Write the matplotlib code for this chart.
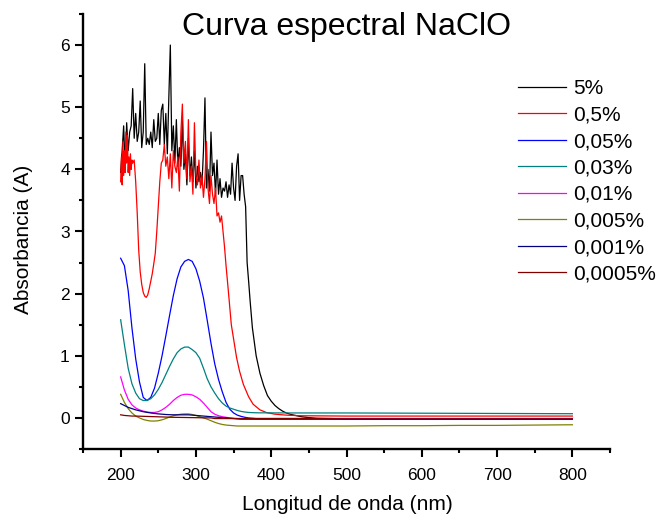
import matplotlib
matplotlib.use('Agg')
import matplotlib.pyplot as plt
from matplotlib.ticker import MultipleLocator

plt.rcParams['font.family'] = ['Liberation Sans', 'DejaVu Sans']

# longitudes de onda para las curvas suaves
wl = [200, 205, 210, 215, 220, 225, 230, 235, 240, 245,
      250, 255, 260, 265, 270, 275, 280, 285, 290, 295,
      300, 305, 310, 315, 320, 325, 330, 335, 340, 345,
      350, 355, 360, 365, 370, 375, 380, 385, 390, 395,
      400, 405, 410, 415, 420, 425, 430, 435, 440, 445,
      450, 500, 550, 600, 650, 700, 750, 800]

# 5 %
wl_5 = list(range(200, 368, 2)) + [368, 370, 372, 375, 380, 385, 390, 395, 400, 405, 410,
                                   415, 420, 425, 430, 440, 450, 460, 480, 500, 600, 700, 800]
a_5 = [3.95, 4.3, 4.7, 4.0, 4.75, 4.3, 4.6, 4.7, 5.3, 4.5,
       4.9, 4.45, 4.6, 5.1, 4.35, 4.6, 5.7, 4.4, 4.5, 4.4,
       4.6, 4.35, 4.8, 4.45, 4.5, 4.9, 4.4, 4.95, 5.05, 4.4,
       4.9, 4.25, 5.15, 6.0, 4.3, 4.7, 4.1, 4.8, 4.05, 4.35,
       4.05, 4.8, 4.0, 4.25, 3.75, 4.5, 3.9, 4.2, 3.8, 4.3,
       3.7, 4.05, 3.8, 3.95, 3.75, 4.3, 5.15, 3.7, 4.0, 3.65,
       4.6, 3.9, 4.1, 3.6, 4.15, 3.6, 3.85, 3.55, 3.7, 3.65,
       3.8, 3.55, 3.75, 3.6, 4.1, 3.7, 3.5, 4.05, 4.25, 3.5,
       3.9, 3.9, 3.6, 3.4,
       2.5, 2.2, 1.88, 1.45, 1.0, 0.72, 0.52, 0.36, 0.27, 0.2, 0.15,
       0.11, 0.08, 0.06, 0.045, 0.02, 0.005, -0.005, -0.01, -0.015, -0.015, -0.015, -0.015]

# 0,5 %
wl_05 = list(range(200, 217)) + list(range(218, 256, 2)) + list(range(256, 340, 2)) + \
    [340, 343, 347, 354, 358, 363, 370, 376, 385, 394, 405, 420, 440, 500, 600, 700, 800]
a_05 = [3.8, 4.2, 3.75, 4.45, 3.9, 4.3, 3.95, 4.6, 4.1, 4.55, 3.95, 4.2, 3.9, 4.25, 4.0, 4.15, 4.1,
        4.15, 3.8, 3.3, 2.7, 2.35, 2.15, 2.02, 1.96, 1.94, 1.98, 2.08, 2.2, 2.32, 2.48, 2.65, 3.0, 3.4, 3.8, 4.1,
        4.15, 4.4, 4.05, 4.2, 3.85, 4.25, 3.7, 4.3, 4.05, 3.95,
        4.2, 3.65, 4.6, 5.05, 4.1, 4.45, 3.85, 4.8, 3.8, 4.05,
        3.6, 4.75, 3.9, 3.75, 4.15, 3.7, 3.9, 3.55, 3.85, 4.45,
        3.7, 3.45, 3.9, 3.6, 3.45, 3.7, 3.25, 3.3, 3.15, 3.25,
        3.0, 2.75,
        2.45, 2.05, 1.5, 0.97, 0.75, 0.54, 0.34, 0.22, 0.13, 0.085, 0.06, 0.045, 0.035, 0.03, 0.03, 0.03, 0.03]

a_005 = [2.57, 2.45, 2.05, 1.45, 0.95, 0.58, 0.33, 0.28, 0.33, 0.48,
         0.72, 1.0, 1.32, 1.65, 1.97, 2.24, 2.43, 2.52, 2.55, 2.52,
         2.4, 2.2, 1.93, 1.57, 1.2, 0.87, 0.62, 0.42, 0.25, 0.14,
         0.08, 0.045, 0.025, 0.01, 0.0, -0.005, -0.01, -0.01, -0.01, -0.01,
         -0.01, -0.01, -0.01, -0.01, -0.01, -0.01, -0.01, -0.01, -0.01, -0.01,
         -0.01, -0.01, -0.01, -0.01, -0.01, -0.01, -0.01, -0.01]

a_003 = [1.58, 1.18, 0.8, 0.55, 0.4, 0.31, 0.28, 0.28, 0.31, 0.37,
         0.46, 0.57, 0.7, 0.83, 0.95, 1.05, 1.11, 1.14, 1.14, 1.1,
         1.05, 0.96, 0.8, 0.63, 0.5, 0.4, 0.31, 0.24, 0.19, 0.16,
         0.14, 0.12, 0.105, 0.095, 0.088, 0.085, 0.083, 0.082, 0.082, 0.082,
         0.082, 0.081, 0.081, 0.081, 0.081, 0.08, 0.08, 0.08, 0.08, 0.08,
         0.08, 0.08, 0.078, 0.076, 0.074, 0.072, 0.07, 0.068]

a_001 = [0.66, 0.45, 0.3, 0.21, 0.16, 0.13, 0.11, 0.095, 0.088, 0.088,
         0.1, 0.13, 0.17, 0.22, 0.28, 0.33, 0.365, 0.38, 0.38, 0.37,
         0.34, 0.3, 0.24, 0.17, 0.1, 0.06, 0.035, 0.02, 0.01, 0.0,
         -0.005, -0.01, -0.01, -0.01, -0.01, -0.01, -0.01, -0.01, -0.01, -0.01,
         -0.01, -0.01, -0.01, -0.01, -0.01, -0.01, -0.01, -0.01, -0.01, -0.01,
         -0.01, -0.01, -0.01, -0.01, -0.01, -0.01, -0.01, -0.01]

a_0005 = [0.38, 0.25, 0.15, 0.08, 0.03, 0.0, -0.025, -0.04, -0.05, -0.05,
          -0.045, -0.03, -0.01, 0.015, 0.035, 0.05, 0.06, 0.065, 0.065, 0.055,
          0.04, 0.02, 0.0, -0.02, -0.045, -0.07, -0.09, -0.105, -0.115, -0.12,
          -0.125, -0.13, -0.13, -0.13, -0.13, -0.13, -0.13, -0.13, -0.13, -0.13,
          -0.13, -0.13, -0.13, -0.13, -0.13, -0.13, -0.13, -0.13, -0.13, -0.13,
          -0.13, -0.13, -0.125, -0.125, -0.12, -0.12, -0.115, -0.11]

a_0001 = [0.23, 0.2, 0.17, 0.15, 0.13, 0.115, 0.1, 0.09, 0.08, 0.072,
          0.065, 0.06, 0.055, 0.052, 0.05, 0.05, 0.05, 0.05, 0.05, 0.045,
          0.04, 0.035, 0.03, 0.025, 0.02, 0.015, 0.01, 0.005, 0.0, -0.005,
          -0.01, -0.015, -0.02, -0.02, -0.02, -0.02, -0.02, -0.02, -0.02, -0.02,
          -0.02, -0.02, -0.02, -0.02, -0.02, -0.02, -0.02, -0.02, -0.02, -0.02,
          -0.02, -0.02, -0.02, -0.02, -0.02, -0.02, -0.02, -0.02]

a_00005 = [0.05, 0.04, 0.035, 0.03, 0.03, 0.028, 0.026, 0.024, 0.022, 0.02,
           0.018, 0.016, 0.014, 0.012, 0.01, 0.009, 0.008, 0.007, 0.006, 0.005,
           0.004, 0.003, 0.002, 0.001, 0.0, -0.01, -0.01, -0.01, -0.01, -0.01,
           -0.01, -0.01, -0.01, -0.01, -0.01, -0.01, -0.01, -0.01, -0.01, -0.01,
           -0.01, -0.01, -0.01, -0.01, -0.01, -0.01, -0.01, -0.01, -0.01, -0.01,
           -0.01, -0.015, -0.015, -0.015, -0.015, -0.015, -0.015, -0.015]

etiquetas = ["5%", "0,5%", "0,05%", "0,03%", "0,01%", "0,005%", "0,001%", "0,0005%"]
colores = ['#000000', '#FF0000', '#0000FF', '#008080', '#FF00FF', '#808000', '#000080', '#800000']

fig = plt.figure(figsize=(6.58, 5.17), dpi=100)
ax = fig.add_axes([83/658, 1-449/517, 527/658, 435/517])

ax.plot(wl_5, a_5, color=colores[0], lw=0.9, label=etiquetas[0])
ax.plot(wl_05, a_05, color=colores[1], lw=0.9, label=etiquetas[1])
series = [a_005, a_003, a_001, a_0005, a_0001, a_00005]
for i, s in enumerate(series):
    ax.plot(wl, s, color=colores[i+2], lw=0.9, label=etiquetas[i+2])

ax.set_xlim(150, 850)
ax.set_ylim(-0.5, 6.5)
ax.xaxis.set_major_locator(MultipleLocator(100))
ax.xaxis.set_minor_locator(MultipleLocator(50))
ax.yaxis.set_major_locator(MultipleLocator(1))
ax.yaxis.set_minor_locator(MultipleLocator(0.5))
ax.set_xticks([200, 300, 400, 500, 600, 700, 800])
ax.set_yticks([0, 1, 2, 3, 4, 5, 6])
ax.tick_params(which='major', length=5.5, width=1.5, labelsize=12.5, direction='out')
ax.tick_params(axis='x', which='major', pad=8)
ax.tick_params(axis='y', which='major', pad=4)
ax.tick_params(which='minor', length=3, width=1.5, direction='out')
ax.spines['right'].set_color('none')
ax.spines['top'].set_color('none')
ax.spines['left'].set_linewidth(1.7)
ax.spines['bottom'].set_linewidth(1.7)

ax.set_xlabel("Longitud de onda (nm)", fontsize=15)
ax.xaxis.set_label_coords(0.501, -0.105)
fig.text(24/658, 1-239/517, "Absorbancia (A)", fontsize=15, rotation=90, ha='center', va='center')
fig.text(347/658, 1-35/517, "Curva espectral NaClO", fontsize=23, ha='center', va='baseline')

ax.legend(loc='upper left', bbox_to_anchor=(518/658, 1-79/517), bbox_transform=fig.transFigure,
          frameon=False, fontsize=15, handlelength=2.3, handletextpad=0.35,
          labelspacing=0.36, borderpad=0, borderaxespad=0)

fig.savefig('out.png', dpi=100)
